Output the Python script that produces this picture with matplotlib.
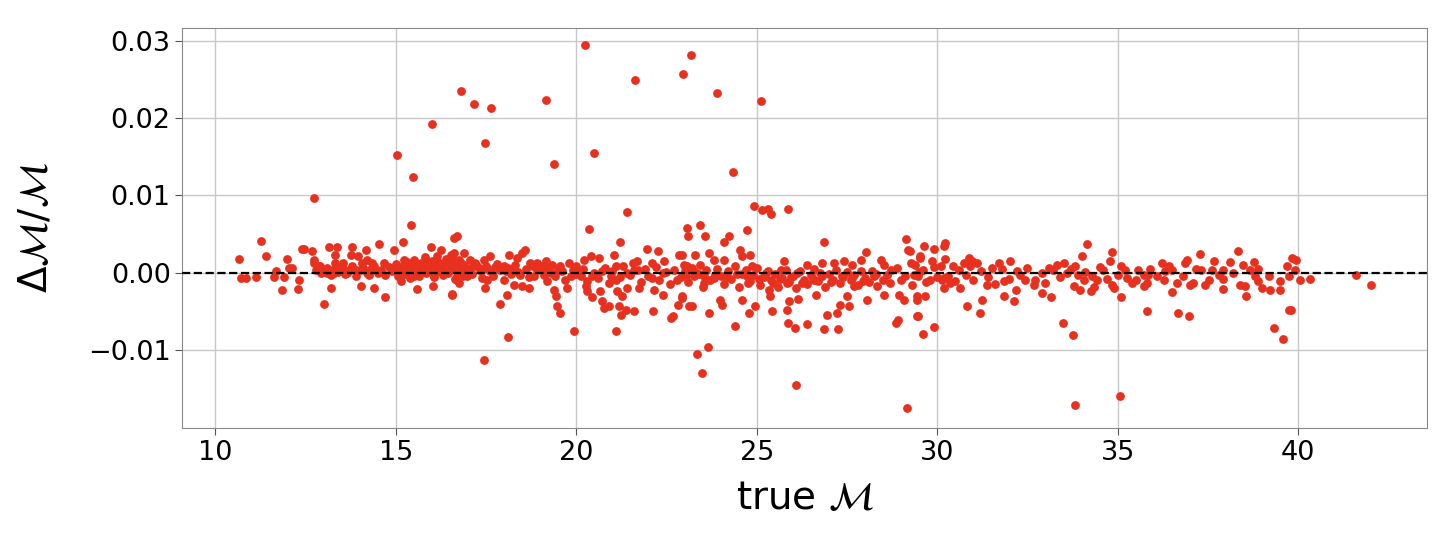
import matplotlib
matplotlib.use('Agg')
import matplotlib.pyplot as plt
import numpy as np

# true chirp mass and relative error (in units of 1e-3)
# isolated points far from zero
out_mc = [12.74, 15.04, 15.48, 16.0, 16.81, 17.17, 17.48, 17.65, 17.45, 18.1,
          19.17, 19.39, 19.94, 20.25, 20.5, 20.36, 21.41, 21.63, 21.1, 22.96,
          23.19, 23.35, 23.49, 23.66, 23.9, 24.35, 25.12, 24.92, 25.15, 25.31,
          25.4, 25.86, 26.1, 29.17, 33.82, 35.07, 33.48, 33.76, 39.75, 12.4]
out_err = [9.7, 15.2, 12.4, 19.2, 23.5, 21.9, 16.8, 21.4, -11.3, -8.4,
           22.4, 14.1, -7.5, 29.5, 15.5, 5.7, 7.9, 25.0, -7.5, 25.8,
           28.2, -10.5, -13.0, -9.6, 23.3, 13.1, 22.3, 8.66, 8.06, 8.28,
           7.63, 8.23, -14.5, -17.5, -17.1, -16.0, -6.5, -8.1, -4.8, 3.0]

# scattered points around the band
mid_mc = [10.65, 10.70, 10.86, 11.14, 11.28, 11.41, 11.85, 11.67, 11.62, 11.90,
          11.99, 12.04, 12.13, 12.33, 12.30, 12.47, 12.69, 12.73, 12.73, 12.87,
          12.92, 13.01, 13.15, 13.2, 13.38, 13.33, 13.33, 13.43, 13.29, 13.10,
          13.55, 13.66, 13.80, 13.75, 13.94, 14.03, 13.89, 14.07, 14.17, 14.21,
          14.35, 14.26, 14.4, 14.54, 14.68, 14.7, 14.95, 15.19, 15.42, 15.23,
          15.14, 15.33, 15.51, 15.60, 15.70, 15.97, 16.02, 15.88, 16.25, 16.16,
          16.07, 16.53, 16.57, 16.62, 16.71, 16.71, 16.62, 16.76,
          16.88, 16.79, 17.07, 17.25, 16.70, 16.97, 16.56, 17.44, 17.62, 17.48,
          17.53, 17.9, 18.08, 18.13, 17.99, 18.36, 18.5, 18.59, 18.27, 18.5,
          18.69, 18.73, 18.92, 18.82, 19.01, 19.15, 19.19, 19.38, 19.43, 19.47,
          19.56, 19.33, 19.56, 19.75, 19.8, 19.98, 20.12, 20.21, 20.26, 20.4,
          20.44, 20.31, 20.63, 20.67, 20.72, 20.77, 20.91, 20.95, 21.05, 21.09,
          21.14, 21.19, 21.21, 21.25, 21.28, 21.37, 21.42, 21.56, 21.6, 21.69,
          21.74, 21.97, 22.11, 22.14, 22.16, 22.27, 22.44, 22.39, 22.62, 22.69,
          22.81, 22.85, 22.94, 22.99, 23.08, 23.1, 23.13,
          23.44, 23.57, 22.93, 23.3, 23.67, 23.81, 24.08, 23.07, 23.44, 23.25,
          23.53, 23.81, 22.93, 23.2, 23.67, 24.41, 23.99, 24.04, 24.08, 24.22,
          24.55, 24.59, 24.73, 24.82, 24.87, 24.73, 24.59, 24.78, 24.96, 25.19,
          25.33, 25.38, 25.43, 25.75, 25.66, 25.84, 25.89, 25.84, 25.86, 26.05,
          26.14, 26.4, 26.12, 26.4, 26.58, 26.63, 26.86, 26.82, 26.86, 26.95,
          27.14, 27.23, 27.26, 27.32, 27.42, 27.51, 27.56, 27.65, 27.69, 27.88,
          28.02, 28.06, 28.2, 28.44, 28.53, 28.34, 28.53, 28.71, 28.85, 28.92,
          28.94, 29.08, 29.13, 29.18, 29.27, 29.36, 29.45, 29.45, 29.53,
          29.25, 29.39, 29.53, 29.64, 29.9, 30.18, 30.22, 30.22, 30.45, 29.48,
          29.44, 29.48, 29.6, 29.92, 29.67, 29.81, 29.85, 30.13, 30.18, 30.36,
          30.64, 30.73, 30.87, 30.96, 31.1, 30.82, 31.19, 31.24, 31.38, 31.52,
          31.7, 31.84, 31.84, 32.03, 32.17, 32.14, 32.21, 32.44, 32.68, 32.91,
          33.14, 33.09, 33.32, 33.51, 33.6, 33.83, 33.79, 33.97, 34.02, 34.16,
          34.06, 34.25, 34.34, 34.44, 34.6, 34.79, 34.85, 34.85, 34.9, 35.1,
          35.08, 35.27, 35.41, 35.55, 35.73, 35.82,
          35.85, 35.81, 35.73, 36.22, 36.27, 36.41, 36.5, 36.5, 36.68, 36.99,
          36.64, 36.87, 36.92, 37.01, 37.1, 37.18, 37.27, 37.43, 37.52, 37.66,
          37.61, 37.93, 37.93, 37.93, 38.1, 38.32, 38.4, 38.54, 38.56, 38.47,
          38.68, 38.77, 38.81, 38.88, 39.0, 39.23, 39.32, 39.51, 39.51, 39.58,
          39.69, 39.79, 39.83, 39.93, 39.76, 40.05, 40.34, 41.59, 42.03]
mid_err = [1.77, -0.69, -0.69, -0.56, 4.05, 2.2, -2.28, 0.17, -0.56, -0.56,
           1.77, 0.6, 0.6, -0.9, -2.11, 3.06, 2.76, 1.68, 1.25, 0.82,
           -0.04, -4.0, 3.28, -1.98, 3.28, 2.33, 1.25, 0.82, -0.04, -0.04,
           1.25, -0.04, 3.28, 2.33, 2.11, -1.77, 0.39, 1.25, 2.97, 1.68,
           1.25, -0.26, -1.98, 3.71, 1.25, -3.19, 2.97, 3.92, 6.16, 1.68,
           -1.12, 0.82, -0.47, -2.11, 1.03, 3.28, -1.77, 0.82, 2.97, 0.82,
           -0.47, 2.33, -2.76, 4.48, 4.7, -0.47, 0.82, -1.34,
           2.54, 1.25, 1.68, 0.82, -0.9, -0.47, -2.84, 1.68, 2.11, -1.98,
           -0.9, -4.0, -2.84, 2.33, 0.82, 1.9, 2.54, 2.97, -1.55, -1.77,
           -1.98, 1.25, 1.25, -0.47, 0.82, 1.47, -1.12, -2.2, -3.06, -4.35,
           -5.2, 1.03, 0.82, -1.98, 1.25, 0.82, -0.47, 1.68, -1.77, 2.11,
           -3.15, -2.41, 1.9, -2.41, -3.71, -4.57, -4.35, -0.47, 2.33, 0.82,
           -2.41, -4.27, 3.92, -5.43, -3.06, -4.78, -1.98, 1.25, -5.0, 1.47,
           -1.98, 3.06, 1.25, -5.0, -2.2, 2.76, 1.47, -2.84, -5.86, -5.65,
           -4.14, 2.33, -3.06, 1.03, 5.78, 4.78, -4.35,
           6.2, 4.78, 2.33, 2.33, 2.54, 1.68, 1.68, 0.82, 1.03, -0.47,
           -0.47, -0.69, -3.28, -4.35, -5.22, -6.94, -3.49, -4.14, 3.92, 4.78,
           2.97, 2.11, 5.56, 2.33, 0.82, -0.47, -3.49, -5.22, -4.35, -0.47,
           -2.2, -3.06, -5.0, 1.47, 0.39, -1.34, -3.71, -4.78, -6.51, -7.16,
           -3.4, -6.72, -0.04, 1.03, -0.9, -2.84, 3.92, 1.25, -7.28, -5.43,
           1.25, -5.22, -7.28, -4.14, 1.47, -3.06, -4.35, 1.03, -1.77, 1.68,
           2.63, -3.49, 0.17, 1.68, 1.03, -1.77, -2.84, 0.39, -6.51, -6.08,
           -2.84, -3.49, 4.35, 2.89, 1.25, -0.26, -3.06, -5.65, 2.11,
           2.76, 1.03, 1.9, 3.49, 3.06, 3.4, 3.84, 1.77, 0.82, -0.47,
           -3.49, -5.65, -7.93, -7.07, -3.06, -0.9, 1.47, -0.9, -1.98, -1.34,
           -1.98, 1.25, 1.9, 1.47, 1.25, -4.35, -5.22, -3.58, -1.55, 0.6,
           1.25, -1.12, -3.06, 1.47, -2.2, -3.71, 0.17, -0.9, -1.55, -2.63,
           -3.15, 0.6, 1.03, 1.25, -0.04, 0.82, -1.68, -2.2, 2.2, 3.71,
           -0.9, -2.41, -1.85, -0.9, 0.3, 1.47, 2.63, -1.55, -1.98, -3.15,
           0.82, -0.69, -1.34, 0.39, -0.26, -5.0,
           -0.26, -1.34, -1.77, 1.25, -0.9, 0.82, 0.39, -2.54, -5.22, -5.65,
           -1.34, 1.25, 1.68, -1.55, -1.34, 0.47, 2.46, -1.55, -0.9, 1.47,
           0.39, 0.39, -0.82, -2.11, 1.34, 2.84, -1.55, -1.68, -2.97, 1.03,
           0.39, 1.38, -0.47, -1.12, -1.98, -2.2, -7.16, -2.2, -1.12, -8.58,
           0.82, -4.78, 1.9, 1.59, -0.47, -0.9, -0.82, -0.26, -1.55]

# crowded core of the band
band_mc = [12.8, 12.9, 13.0, 13.1, 13.2, 13.3, 13.4, 13.5, 13.6, 13.7,
           13.8, 13.9, 14.0, 14.1, 14.2, 14.3, 14.4, 14.5, 14.6, 14.7,
           14.8, 14.9, 15.0, 15.05, 15.1, 15.2, 15.25, 15.3, 15.35, 15.4,
           15.45, 15.5, 15.55, 15.6, 15.65, 15.7, 15.75, 15.8, 15.85, 15.9,
           15.95, 16.0, 16.05, 16.1, 16.15, 16.2, 16.25, 16.3, 16.35, 16.4,
           16.45, 16.5, 16.55, 16.6, 16.65, 16.7, 16.75, 16.8, 16.85, 16.9,
           17.0, 17.1, 17.2, 17.3, 17.4, 17.5, 17.6, 17.7, 17.8, 17.9,
           18.0, 18.1, 18.2, 18.3, 18.4, 18.6, 18.7, 18.9, 19.1, 19.2,
           19.4, 19.6, 19.7, 19.9, 20.0, 20.2, 20.3, 20.5, 20.6, 20.8,
           20.9, 21.0, 21.2, 21.3, 21.5, 21.6, 21.8, 21.9, 22.0, 22.2,
           22.3, 22.5, 22.6, 22.7, 22.9, 23.0, 23.1, 23.2, 23.4, 23.5,
           23.6, 23.7, 23.9, 24.0, 24.1, 24.2, 24.3, 24.4, 24.5, 24.6,
           24.7, 24.8, 24.9, 25.0, 25.1, 25.2, 25.3, 25.4, 25.5, 25.6,
           25.7, 25.8, 25.9, 26.0, 26.1, 26.2, 26.3, 26.4, 26.5, 26.6,
           26.7, 26.8, 26.9, 27.0, 27.1, 27.2, 27.3, 27.4, 27.5, 27.6,
           27.7, 27.8, 27.9, 28.0, 28.1, 28.3, 28.5, 28.7, 28.9, 29.1,
           29.3, 29.6, 29.7, 29.9, 30.0, 30.1, 30.3, 30.5, 30.6, 30.8,
           30.9, 31.0, 31.2, 31.4, 31.6, 31.8, 32.0, 32.3, 32.5, 32.7,
           32.9, 33.0, 33.2, 33.4, 33.7, 33.9, 34.1, 34.3, 34.5, 34.7,
           35.0, 35.2, 35.5, 35.9, 36.1, 36.3, 36.8, 37.3, 37.8, 38.2,
           38.9, 39.2, 39.9,
           15.12, 15.28, 15.38, 15.52, 15.62, 15.78, 15.92, 16.08, 16.18, 16.32,
           16.42, 16.58, 16.68, 16.82, 16.95, 17.15, 17.35, 17.55, 17.75, 18.05,
           18.25, 18.45, 18.8, 19.05, 19.3, 19.5, 19.85, 20.1, 20.45, 20.7,
           21.1, 21.4, 21.7, 22.1, 22.4, 22.8, 23.05, 23.3, 23.55, 23.85,
           24.15, 24.45, 24.75, 25.05, 25.25, 25.45, 25.65, 25.95, 26.25, 26.55,
           26.75, 27.05, 27.35, 27.65, 27.95, 28.25, 28.6, 29.0, 29.5, 30.2]
band_err = [0.3, 0.9, 0.2, 0.6, -0.3, 0.5, 0.1, 0.7, -0.2, 0.4,
            0.9, -0.4, 0.3, 0.6, -0.1, 0.5, 0.8, 0.0, 0.4, -0.3,
            0.7, 0.2, 1.1, -0.5, 0.4, 0.9, -0.2, 1.4, 0.3, -0.7,
            0.8, 1.6, 0.1, 0.5, -0.4, 1.2, 0.6, 2.0, -0.1, 1.0,
            0.3, 1.5, -0.6, 0.8, 2.2, 0.2, 1.1, -0.3, 0.7, 1.8,
            0.0, 1.3, 0.5, 2.6, -0.8, 0.9, 1.6, 0.2, -0.5, 1.0,
            0.4, -0.2, 1.3, 0.6, -0.7, 0.9, 0.2, -0.4, 1.1, 0.3,
            -0.9, 0.6, -0.2, 1.0, 0.1, 0.5, -0.6, 0.3, -0.3, 0.6,
            -0.5, 0.2, -1.0, 0.4, -0.2, 0.5, -1.1, 0.0, -0.7, 0.6,
            -1.4, 0.2, -0.6, 0.9, -0.3, 0.3, -1.2, 0.5, -0.4, 0.7,
            -0.9, 0.1, -1.5, 0.4, -0.6, 0.2, -1.2, 0.6, -0.2, -1.8,
            0.3, -0.9, 0.5, -0.4, -1.5, 0.2, -0.8, 0.9, -1.9, -0.2,
            0.4, -1.1, -0.3, 0.6, -1.6, -0.6, 0.2, -1.0, -0.2, -1.9,
            -0.7, 0.3, -1.2, -0.4, -2.0, 0.2, -0.9, -1.5, -0.3, 0.5,
            -1.1, -0.5, -1.8, -0.2, -0.9, 0.4, -1.4, -0.6, 0.1, -1.0,
            -0.3, -1.6, 0.2, -0.7, -1.2, -0.2, -0.9, -1.4, 0.6, -0.5,
            -1.6, 0.3, -1.2, 0.7, -0.6, 0.9, -0.4, -1.1, 0.4, -0.3,
            0.8, -1.0, 0.2, -0.6, -1.5, 0.5, -0.8, -0.3, 0.6, -0.9,
            0.0, -1.3, 0.4, -0.6, 0.5, -0.3, 0.1, -0.4, 0.7, -0.8,
            -0.3, 0.3, -0.9, 0.5, -0.4, 0.2, -0.5, 0.4, -0.3, 0.0,
            0.5, -0.5, 0.3,
            0.2, 1.0, 0.6, 1.1, 0.9, 0.3, 1.3, 0.5, 1.4, 0.9,
            0.4, 1.7, 0.3, 1.2, 0.6, 0.8, 0.2, 0.5, 0.7, 0.2,
            0.4, -0.3, 0.8, 0.3, -0.1, 0.4, -0.5, 0.1, -0.4, 0.2,
            -0.9, -0.1, 0.3, -0.7, 0.0, -1.0, -0.5, 0.1, -1.3, -0.3,
            -0.6, -0.2, -1.3, -0.8, -0.1, -1.4, -0.8, -0.6, -1.3, -0.8,
            -0.1, -1.2, -0.4, -0.7, -1.1, -0.4, -0.3, -0.9, 0.1, -0.7]

true_mc = np.array(band_mc + mid_mc + out_mc)
rel_err = np.array(band_err + mid_err + out_err) * 1e-3

fig = plt.figure(figsize=(14.48, 5.34), dpi=100)
ax = fig.add_axes([0.126, 0.199, 0.8595, 0.7485])

ax.scatter(true_mc, rel_err, s=40, color='#e8301f', linewidths=0, zorder=2)
ax.axhline(0, color='k', ls='--', lw=1.6, zorder=3)

ax.set_xlim(9.09, 43.57)
ax.set_ylim(-0.0201, 0.0317)
ax.set_xticks([10, 15, 20, 25, 30, 35, 40])
ax.set_yticks([-0.01, 0.0, 0.01, 0.02, 0.03])
ax.grid(True, color='#c8c8c8', lw=1.0, zorder=0)
ax.set_axisbelow(True)

for sp in ax.spines.values():
    sp.set_color('#8a8a8a')
ax.tick_params(labelsize=19.5, color='#555555', length=5)

ax.set_xlabel(r'true $\mathcal{M}$', fontsize=28, labelpad=10)
ax.set_ylabel(r'$\Delta\mathcal{M}/\mathcal{M}$', fontsize=28, labelpad=24)

fig.savefig('out.png', dpi=100)
